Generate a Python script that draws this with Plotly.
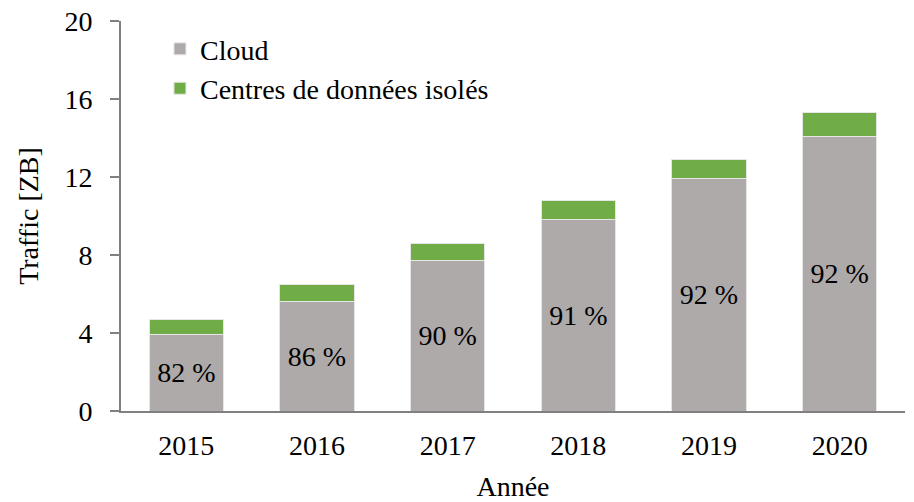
import plotly.graph_objects as go

years = ["2015", "2016", "2017", "2018", "2019", "2020"]
cloud = [3.9, 5.6, 7.7, 9.8, 11.9, 14.1]
isolated = [0.8, 0.9, 0.9, 1.0, 1.0, 1.2]
cloud_share = ["82 %", "86 %", "90 %", "91 %", "92 %", "92 %"]
y_ticks = [0, 4, 8, 12, 16, 20]

FONT = "Liberation Serif"
FS = 28

fig = go.Figure()
fig.add_trace(go.Bar(
    x=years, y=cloud, name="Cloud",
    marker=dict(color="#AEAAAA", line=dict(color="#E6E6E6", width=1)),
    text=cloud_share, textposition="inside", insidetextanchor="middle",
    textfont=dict(family=FONT, size=FS, color="black"),
    textangle=0,
))
fig.add_trace(go.Bar(
    x=years, y=isolated, name="Centres de données isolés",
    marker=dict(color="#70AD47", line=dict(color="#E6E6E6", width=1)),
))

# page body has an 8px default margin, so the figure is sized/offset to compensate
fig.update_layout(
    barmode="stack",
    bargap=0.43,
    width=906, height=494,
    margin=dict(l=113, r=9, t=13, b=91, autoexpand=False),
    plot_bgcolor="white", paper_bgcolor="white",
    font=dict(family=FONT, size=FS, color="black"),
    showlegend=True,
    legend=dict(
        x=0.0497, y=0.992, xanchor="left", yanchor="top",
        traceorder="normal", bgcolor="rgba(0,0,0,0)",
        font=dict(family=FONT, size=FS, color="black"),
        itemwidth=30, tracegroupgap=0,
    ),
    uniformtext=dict(mode=False),
)
fig.update_yaxes(
    range=[0, 20], tickvals=y_ticks, ticks="outside", ticklen=9,
    tickcolor="#808080", tickwidth=1.5,
    showline=True, linecolor="#808080", linewidth=2,
    showgrid=False, zeroline=False, automargin=False,
    ticklabelstandoff=12, ticklabeloverflow="allow",
    title=dict(text="Traffic [ZB]", font=dict(family=FONT, size=FS), standoff=18),
    tickfont=dict(family=FONT, size=FS),
)
fig.update_xaxes(
    showline=True, linecolor="#808080", linewidth=2,
    ticks="", showgrid=False, automargin=False,
    ticklabelstandoff=8,
    title=dict(text="Année", font=dict(family=FONT, size=FS), standoff=26),
    tickfont=dict(family=FONT, size=FS),
)

fig.write_html("out.html")
